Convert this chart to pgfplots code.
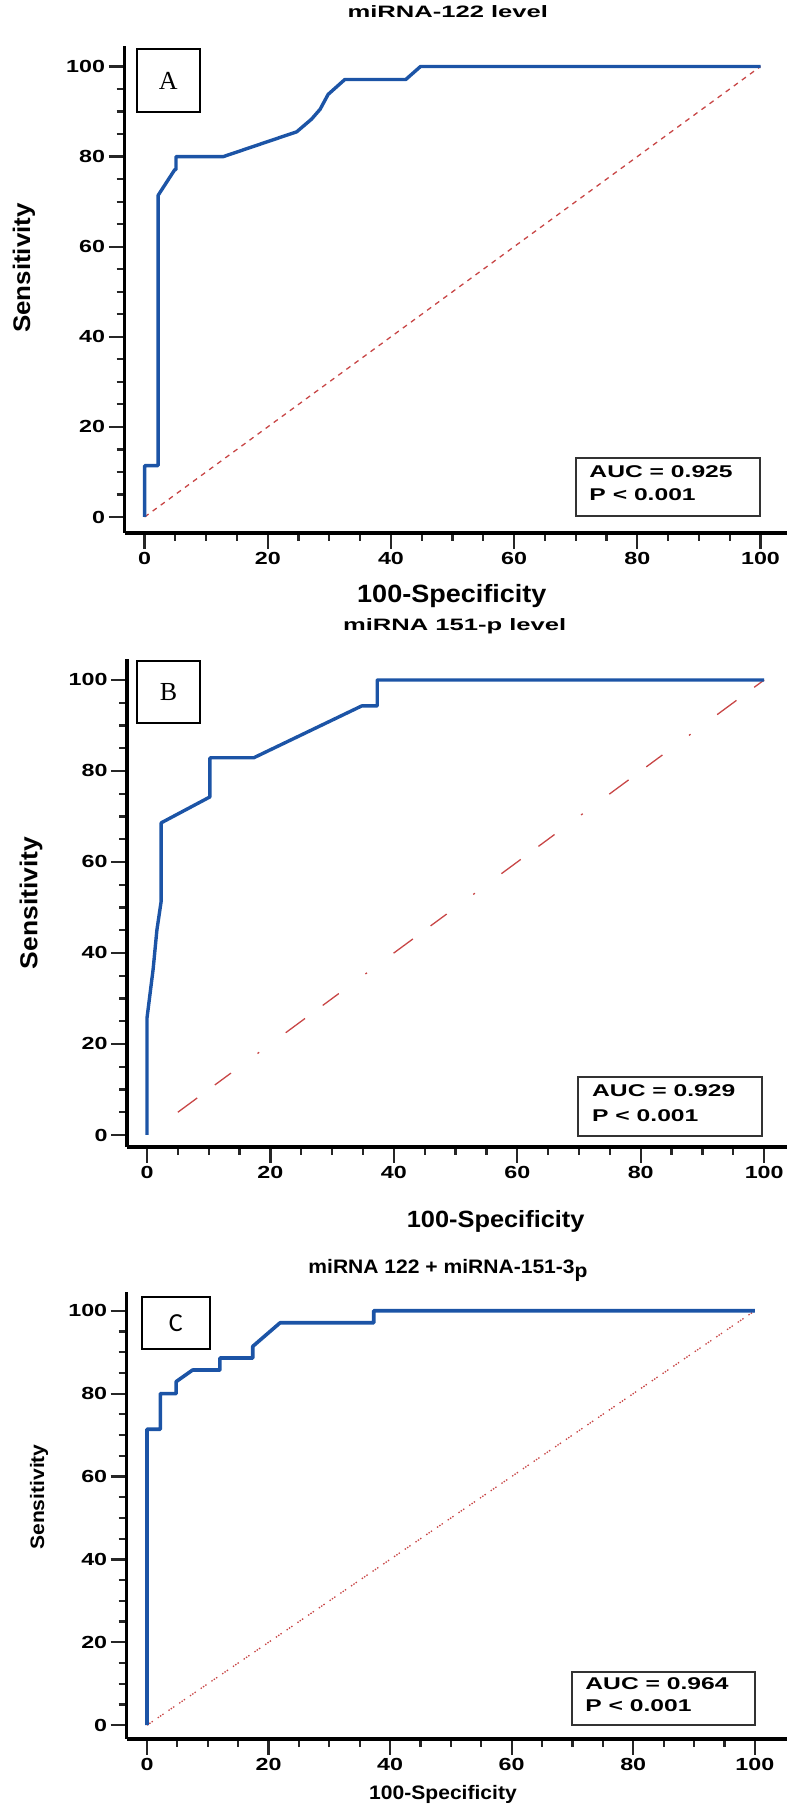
\documentclass[border=0pt]{standalone}
\usepackage{fontspec}
\setmainfont{Liberation Sans}
\newfontfamily\tickfam{Liberation Sans}[FakeStretch=1.33]
\newfontfamily\titlefam{Liberation Sans}[FakeStretch=1.55]
\newfontfamily\aucfam{Liberation Sans}[FakeStretch=1.45]
\newfontfamily\labfam{Liberation Sans}[FakeStretch=1.08]
\newfontfamily\serifam{Liberation Serif}
\newfontfamily\carfam{Carlito}
\usepackage{pgfplots}
\pgfplotsset{compat=1.18}

\definecolor{roc}{RGB}{28,84,166}
\definecolor{diag}{RGB}{200,70,70}

\newcommand\aucfont{\fontsize{17}{20}\selectfont\aucfam\bfseries}

\pgfplotsset{
  rocaxis/.style={
    scale only axis,
    axis lines*=left,
    axis line style={line width=3.2pt, black},
    tick align=outside,
    major tick length=16pt,
    minor tick length=8pt,
    tick style={black!85, line width=2.2pt},
    minor tick num=3,
    xtick={0,20,...,100}, ytick={0,20,...,100},
    /pgf/number format/assume math mode=true,
    ticklabel style={font=\fontsize{17.5}{20}\selectfont\tickfam\bfseries},
    clip=false,
  }
}

\begin{document}
\begin{tikzpicture}
\path[use as bounding box] (0pt,0pt) rectangle (787pt,1809pt);

% ---------------- Panel A ----------------
\begin{axis}[rocaxis,
  at={(124.5pt,1276pt)}, anchor=south west,
  width=662.5pt, height=487pt,
  xmin=-3.26, xmax=104.3, ymin=-3.55, ymax=104.55,
  title={miRNA-122 level},
  title style={at={(0.488,1.0575)}, anchor=center, font=\fontsize{16.5}{18}\selectfont\titlefam\bfseries},
  xlabel={100-Specificity},
  xlabel style={at={(0.494,-0.129)}, anchor=center, font=\fontsize{25}{28}\selectfont\labfam\bfseries},
  ylabel={Sensitivity},
  ylabel style={at={(-0.1517,0.544)}, anchor=center, font=\fontsize{24}{28}\selectfont\labfam\bfseries},
]
\addplot[diag, line width=1.3pt, dash pattern=on 5pt off 5pt] coordinates {(0,0) (100,100)};
\addplot[roc, line width=3.4pt, line join=round] coordinates {
(0,0) (0,11.4) (2.2,11.4) (2.2,71.4) (4.9,77.1) (5.1,77.1) (5.1,80) (12.8,80)
(24.7,85.5) (27.1,88.3) (28.5,90.5) (29.8,93.8) (32.5,97.1) (42.4,97.1) (44.8,100) (100,100)};
\node[draw=black, line width=1.8pt, minimum width=63.3pt, minimum height=62.7pt, inner sep=0pt,
  font=\fontsize{26}{26}\selectfont\serifam] at (axis cs:3.86,96.86) {A};
\draw[line width=2pt, black!80] (axis cs:70.0,0.2) rectangle (axis cs:99.9,13.2);
\node[anchor=base west, inner sep=0pt, font=\aucfont] at (axis cs:72.2,8.66) {AUC = 0.925};
\node[anchor=base west, inner sep=0pt, font=\aucfont] at (axis cs:72.2,3.77) {P < 0.001};
\end{axis}

% ---------------- Panel B ----------------
\begin{axis}[rocaxis,
  at={(127pt,662pt)}, anchor=south west,
  width=660pt, height=487.5pt,
  xmin=-3.24, xmax=103.7, ymin=-2.64, ymax=104.5,
  title={miRNA 151-p level},
  title style={at={(0.4965,1.0564)}, anchor=center, font=\fontsize{16.5}{18}\selectfont\titlefam\bfseries},
  xlabel={100-Specificity},
  xlabel style={at={(0.5586,-0.152)}, anchor=center, font=\fontsize{23.5}{28}\selectfont\labfam\bfseries},
  ylabel={Sensitivity},
  ylabel style={at={(-0.1455,0.5005)}, anchor=center, font=\fontsize{24.5}{28}\selectfont\labfam\bfseries},
]
\addplot[diag, line width=1.3pt, dash pattern=on 24pt off 22pt on 20pt off 33pt on 2pt off 33pt] coordinates {(5,5) (100,100)};
\addplot[roc, line width=3.4pt, line join=round] coordinates {
(0,0) (0,25.7) (1.0,36.5) (1.6,45) (2.3,51.4) (2.3,68.6) (10.2,74.3) (10.2,82.9)
(17.3,82.9) (34.8,94.3) (37.3,94.3) (37.3,100) (100,100)};
\node[draw=black, line width=1.8pt, minimum width=62.7pt, minimum height=62.3pt, inner sep=0pt,
  font=\fontsize{26}{26}\selectfont\serifam] at (axis cs:3.51,97.33) {B};
\draw[line width=2pt, black!80] (axis cs:69.9,-0.2) rectangle (axis cs:99.7,12.75);
\node[anchor=base west, inner sep=0pt, font=\aucfont] at (axis cs:72.1,8.4) {AUC = 0.929};
\node[anchor=base west, inner sep=0pt, font=\aucfont] at (axis cs:72.1,3.0) {P < 0.001};
\end{axis}

% ---------------- Panel C ----------------
\begin{axis}[rocaxis,
  at={(126.7pt,70pt)}, anchor=south west,
  width=660.3pt, height=447.3pt,
  xmin=-3.34, xmax=105.3, ymin=-3.33, ymax=104.6,
  title={miRNA 122 + miRNA-151-3\raisebox{-4pt}{p}},
  title style={at={(0.4866,1.033)}, anchor=center, font=\fontsize{19.5}{22}\selectfont\labfam\bfseries},
  xlabel={100-Specificity},
  xlabel style={at={(0.479,-0.125)}, anchor=center, font=\fontsize{19.5}{22}\selectfont\labfam\bfseries},
  ylabel={Sensitivity},
  ylabel style={at={(-0.1328,0.541)}, anchor=center, font=\fontsize{19.5}{22}\selectfont\labfam\bfseries},
]
\addplot[diag, line width=1.3pt, dash pattern=on 1.4pt off 1.4pt on 1.4pt off 1.4pt on 1.4pt off 6pt] coordinates {(0,0) (100,100)};
\addplot[roc, line width=3.6pt, line join=round] coordinates {
(0,0) (0,71.4) (2.2,71.4) (2.2,80) (4.8,80) (4.8,82.9) (7.5,85.7) (12.0,85.7)
(12.0,88.6) (17.4,88.6) (17.4,91.4) (21.9,97.1) (37.3,97.1) (37.3,100) (100,100)};
\node[draw=black, line width=1.8pt, minimum width=68.3pt, minimum height=52.6pt, inner sep=0pt,
  font=\fontsize{26}{26}\selectfont\carfam] at (axis cs:4.75,97.03) {C};
\draw[line width=2pt, black!80] (axis cs:70,0) rectangle (axis cs:100,12.8);
\node[anchor=base west, inner sep=0pt, font=\aucfont] at (axis cs:72.1,8.5) {AUC = 0.964};
\node[anchor=base west, inner sep=0pt, font=\aucfont] at (axis cs:72.1,3.4) {P < 0.001};
\end{axis}
\end{tikzpicture}
\end{document}
